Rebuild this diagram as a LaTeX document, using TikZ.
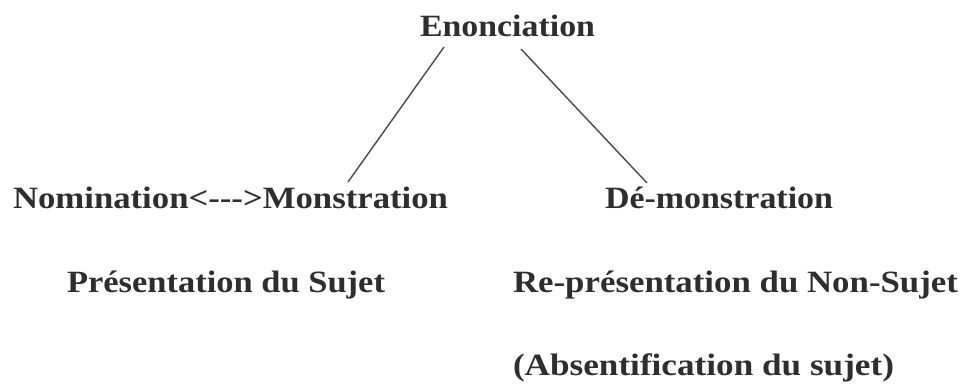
\documentclass[tikz,border=0pt]{standalone}
\usepackage{fontspec}
\setmainfont{Liberation Serif}
\usepackage{graphicx}
\definecolor{ink}{HTML}{2E2E2E}
\definecolor{linec}{HTML}{4A4A4A}
\newcommand{\fitw}[2]{\resizebox{#1pt}{\height}{#2}}
\tikzset{
  lbl/.style={inner sep=0pt, outer sep=0pt, anchor=base west, text=ink,
    font=\fontsize{31}{34}\selectfont\bfseries},
  conn/.style={draw=linec, line width=1.4pt}
}
\begin{document}
\begin{tikzpicture}[x=1pt,y=-1pt]
\useasboundingbox (0,0) rectangle (966,383);
\node[lbl] (enon) at (420,36) {\fitw{175}{Enonciation}};
\node[lbl] (nomo) at (13,208) {\fitw{435}{Nomination<-{}-{}->Monstration}};
\node[lbl] (demo) at (605,208) {\fitw{228}{Dé-monstration}};
\node[lbl] (pres) at (67,292) {\fitw{318}{Présentation du Sujet}};
\node[lbl] (repr) at (513,292) {\fitw{445}{Re-présentation du Non-Sujet}};
\node[lbl] (abs) at (513,375) {\fitw{381}{(Absentification du sujet)}};
\coordinate (eL) at (444,47);
\coordinate (mT) at (348,182);
\coordinate (eR) at (521,49);
\coordinate (dT) at (647,183);
\draw[conn] (eL) -- (mT);
\draw[conn] (eR) -- (dT);
\end{tikzpicture}
\end{document}
